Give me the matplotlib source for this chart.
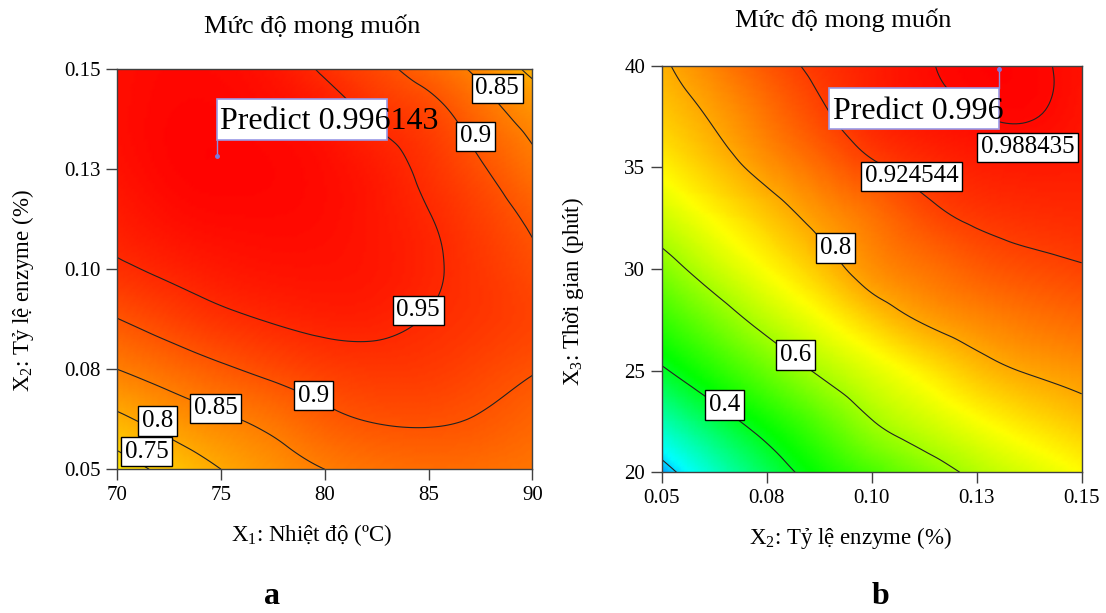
import numpy as np
import matplotlib
matplotlib.use("Agg")
import matplotlib.pyplot as plt
import matplotlib.tri as mtri
from matplotlib.colors import LinearSegmentedColormap, Normalize
from matplotlib.patches import Rectangle

plt.rcParams['font.family'] = ['Liberation Serif', 'DejaVu Serif']
plt.rcParams['mathtext.fontset'] = 'custom'
plt.rcParams['mathtext.rm'] = 'Liberation Serif'
plt.rcParams['mathtext.it'] = 'Liberation Serif:italic'

# ---- data ----
# panel a: desirability vs temperature (x1) and enzyme ratio (x2)
temp = [70, 72.5, 75, 77.5, 80, 82.5, 85, 87.5, 90]
enzyme = [0.05, 0.0625, 0.075, 0.0875, 0.1, 0.1125, 0.125, 0.1375, 0.15]
# one row per enzyme value (bottom to top), one column per temperature
desir_a = [
    [0.726, 0.765, 0.800, 0.827, 0.850, 0.864, 0.871, 0.869, 0.862],
    [0.790, 0.820, 0.843, 0.864, 0.889, 0.903, 0.905, 0.897, 0.881],
    [0.850, 0.872, 0.893, 0.912, 0.927, 0.934, 0.931, 0.918, 0.903],
    [0.899, 0.921, 0.940, 0.953, 0.961, 0.960, 0.948, 0.935, 0.920],
    [0.943, 0.958, 0.970, 0.977, 0.978, 0.972, 0.956, 0.935, 0.910],
    [0.965, 0.981, 0.988, 0.989, 0.985, 0.972, 0.952, 0.925, 0.893],
    [0.978, 0.992, 0.996, 0.993, 0.985, 0.967, 0.940, 0.905, 0.864],
    [0.983, 0.993, 0.994, 0.987, 0.972, 0.945, 0.921, 0.877, 0.835],
    [0.982, 0.990, 0.988, 0.975, 0.944, 0.914, 0.879, 0.839, 0.790],
]
levels_a = [0.75, 0.8, 0.85, 0.9, 0.95]
predict_a = (74.8, 0.1283, "0.996143")

# panel b: desirability vs enzyme ratio (x2) and time (x3)
time_min = [20, 22.5, 25, 27.5, 30, 32.5, 35, 37.5, 40]
# one row per time value (bottom to top), one column per enzyme value
desir_b = [
    [0.175, 0.265, 0.355, 0.435, 0.500, 0.561, 0.617, 0.660, 0.700],
    [0.280, 0.361, 0.438, 0.516, 0.597, 0.648, 0.694, 0.734, 0.767],
    [0.390, 0.464, 0.538, 0.610, 0.668, 0.720, 0.772, 0.805, 0.825],
    [0.480, 0.555, 0.627, 0.690, 0.755, 0.807, 0.838, 0.860, 0.875],
    [0.565, 0.638, 0.701, 0.765, 0.828, 0.862, 0.890, 0.908, 0.920],
    [0.645, 0.704, 0.762, 0.818, 0.862, 0.906, 0.932, 0.943, 0.948],
    [0.710, 0.767, 0.822, 0.870, 0.915, 0.945, 0.962, 0.968, 0.966],
    [0.760, 0.808, 0.862, 0.913, 0.954, 0.975, 0.987, 0.990, 0.975],
    [0.790, 0.845, 0.897, 0.937, 0.963, 0.985, 0.996, 0.994, 0.978],
]
levels_b = [0.2, 0.4, 0.6, 0.8, 0.924544, 0.988435]
predict_b = (0.1302, 39.82, "0.996")

temp_ticks = [70, 75, 80, 85, 90]
enzyme_ticks = [0.05, 0.075, 0.1, 0.125, 0.15]
enzyme_ticklabels = ["0.05", "0.08", "0.10", "0.13", "0.15"]
time_ticks = [20, 25, 30, 35, 40]

title = "Mức độ mong muốn"

# contour label placement (level, x, y) in data units
label_pos_a = [(0.75, 71.42, 0.0544), (0.8, 71.95, 0.0621), (0.85, 74.74, 0.0652),
               (0.9, 79.45, 0.0684), (0.95, 84.5, 0.0897), (0.9, 87.26, 0.1332),
               (0.85, 88.31, 0.1452)]
label_pos_b = [(0.4, 0.065, 23.3), (0.6, 0.0818, 25.76), (0.8, 0.0913, 31.03),
               (0.924544, 0.1095, 34.55), (0.988435, 0.1371, 35.98)]

cmap = LinearSegmentedColormap.from_list(
    "design", [(0, "#0000ff"), (0.13, "#00ffff"), (0.36, "#00ff00"),
               (0.6667, "#ffff00"), (1, "#ff0000")])
norm = Normalize(0.1, 1.0)


def smooth_field(xs, ys, z):
    # grid -> triangles on a unit square, refined with matplotlib's cubic interpolator
    n, m = len(xs), len(ys)
    u, v = np.meshgrid(np.linspace(0, 1, n), np.linspace(0, 1, m))
    idx = np.arange(n * m).reshape(m, n)
    a = idx[:-1, :-1].ravel()
    b = idx[:-1, 1:].ravel()
    c = idx[1:, 1:].ravel()
    d = idx[1:, :-1].ravel()
    triangles = np.concatenate([np.stack([a, b, c], 1), np.stack([a, c, d], 1)])
    t = mtri.Triangulation(u.ravel(), v.ravel(), triangles)
    tr, zr = mtri.UniformTriRefiner(t).refine_field(np.asarray(z, float).ravel(), subdiv=4)
    x = xs[0] + tr.x * (xs[-1] - xs[0])
    y = ys[0] + tr.y * (ys[-1] - ys[0])
    return mtri.Triangulation(x, y, tr.triangles), zr


def draw_panel(ax, xs, ys, z, levels, label_pos, predict, box, text_xy):
    tri, zr = smooth_field(xs, ys, z)
    ax.tripcolor(tri, zr, shading='gouraud', cmap=cmap, norm=norm)
    ax.tricontour(tri, zr, levels=levels, colors='#222222', linewidths=0.8)
    for lev, x, y in label_pos:
        ax.text(x, y, f"{lev:g}", fontsize=18, ha='center', va='center', zorder=5,
                bbox=dict(boxstyle='square,pad=0.15', fc='white', ec='black', lw=1))
    # predict flag
    px, py, val = predict
    bx0, by0, bx1, by1 = box
    ax.add_patch(Rectangle((bx0, by0), bx1 - bx0, by1 - by0, fc='white',
                           ec='#9a9ae6', lw=1.2, zorder=6))
    corner_y = by0 if py < by0 else by1
    corner_x = bx0 if abs(px - bx0) < abs(px - bx1) else bx1
    ax.plot([px, corner_x], [py, corner_y], color='#8c8ce0', lw=1, zorder=6)
    ax.plot(px, py, 'o', color='#7a7ae0', ms=2.5, zorder=7)
    ax.text(text_xy[0], text_xy[1], "Predict " + val, fontsize=23, ha='left',
            va='baseline', zorder=7)
    ax.set_xlim(xs[0], xs[-1])
    ax.set_ylim(ys[0], ys[-1])
    for s in ax.spines.values():
        s.set_linewidth(1)
        s.set_color('#404040')
    ax.tick_params(direction='out', length=8, width=1, color='#404040',
                   labelsize=15, pad=4)


fig = plt.figure(figsize=(11.06, 6.13), dpi=100)
ax1 = fig.add_axes([117.3 / 1106, 143.7 / 613, 415 / 1106, 400 / 613])
ax2 = fig.add_axes([661.7 / 1106, 140.7 / 613, 420 / 1106, 406.6 / 613])

draw_panel(ax1, temp, enzyme, desir_a, levels_a, label_pos_a, predict_a,
           (74.8, 0.1323, 83.0, 0.1426), (74.95, 0.1351))
ax1.set_xticks(temp_ticks)
ax1.set_yticks(enzyme_ticks, enzyme_ticklabels)
ax1.set_xlabel("X$_1$: Nhiệt độ (ºC)", fontsize=16.5, va='center')
ax1.set_ylabel("X$_2$: Tỷ lệ enzyme (%)", fontsize=16.5, va='center')
ax1.xaxis.set_label_coords(0.468, -0.164)
ax1.yaxis.set_label_coords(-0.228, 0.448)
ax1.set_title(title, fontsize=19, x=0.47, y=1.108, va='center', pad=0)

draw_panel(ax2, enzyme, time_min, desir_b, levels_b, label_pos_b, predict_b,
           (0.0898, 36.87, 0.1302, 38.89), (0.0908, 37.39))
ax2.set_xticks(enzyme_ticks, enzyme_ticklabels)
ax2.set_yticks(time_ticks)
ax2.set_xlabel("X$_2$: Tỷ lệ enzyme (%)", fontsize=16.5, va='center')
ax2.set_ylabel("X$_3$: Thời gian (phút)", fontsize=16.5, va='center')
ax2.xaxis.set_label_coords(0.449, -0.162)
ax2.yaxis.set_label_coords(-0.211, 0.444)
ax2.set_title(title, fontsize=19, x=0.432, y=1.111, va='center', pad=0)

fig.text(271.7 / 1106, 1 - 596 / 613, "a", fontsize=23, fontweight='bold', ha='center', va='center')
fig.text(880 / 1106, 1 - 596 / 613, "b", fontsize=23, fontweight='bold', ha='center', va='center')

fig.savefig("out.png", dpi=100)
